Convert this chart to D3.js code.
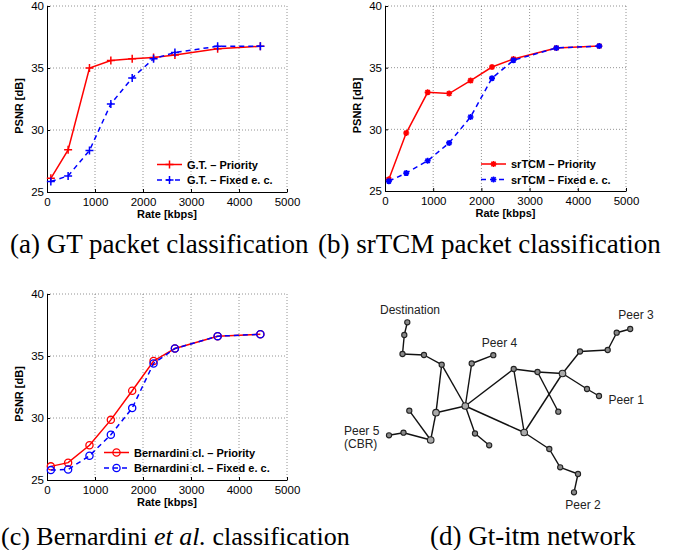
<!DOCTYPE html>
<html><head><meta charset="utf-8">
<script src="https://cdn.jsdelivr.net/npm/d3@7"></script>
<style>body{margin:0;background:#fff}</style>
</head><body>
<svg id="c" width="696" height="550"></svg>
<script>
const rates = [80, 440, 885, 1330, 1775, 2220, 2665, 3555, 4445];
const gtPriority = [26.1, 28.4, 35.0, 35.6, 35.75, 35.85, 36.05, 36.55, 36.75];
const gtFixed = [25.85, 26.3, 28.35, 32.1, 34.2, 35.75, 36.25, 36.75, 36.75];
const srPriority = [25.95, 29.7, 33.0, 32.9, 33.95, 35.05, 35.7, 36.6, 36.75];
const srFixed = [25.8, 26.45, 27.45, 28.9, 31.0, 34.15, 35.6, 36.6, 36.75];
const bePriority = [26.1, 26.4, 27.8, 29.85, 32.2, 34.6, 35.6, 36.6, 36.75];
const beFixed = [25.8, 25.85, 26.95, 28.65, 30.8, 34.4, 35.6, 36.6, 36.75];
const xTicks = [0, 1000, 2000, 3000, 4000, 5000];
const yTicks = [25, 30, 35, 40];
const captions = ["(a) GT packet classification", "(b) srTCM packet classification", "classification", "(d) Gt-itm network"];

// network (layout units)
const nodeX = [407.3,404.3,402.5,424,441.7,436,409.3,430.7,403.5,389,465.3,471.7,493.3,475,489.2,513.7,537.5,558.3,562.5,524.2,580,607.7,616.7,630.2,587,599,549.3,560.2,578,574];
const nodeY = [322.3,335,354,355,364.7,412.7,410.7,440,432.7,435.3,406,363.5,355.2,433.5,445.3,369,372,411.7,373.5,432.5,351.5,350,332.7,329,389,396,449,467.3,474,492.3];
const edges = [[0,1],[1,2],[2,3],[3,4],[4,5],[4,10],[5,7],[5,10],[6,7],[8,7],[9,8],[10,11],[11,12],[10,13],[13,14],[10,15],[10,19],[15,19],[15,16],[16,18],[16,17],[19,18],[18,20],[20,21],[21,22],[22,23],[18,24],[24,25],[19,26],[26,27],[27,28],[28,29]];
const bigNodes = [5,7,10,18,19];
const netLabels = ["Destination","Peer 4","Peer 3","Peer 1","Peer 2","Peer 5","(CBR)"];
const netLabelX = [410,499.5,636,608.5,583,344,344];
const netLabelY = [310,342.5,315,399.5,505,431,444];

const svg = d3.select("#c");
const RED = "#ff0000", BLUE = "#0000ff";

function panel(x0, x1, y0, y1, series, legendPos) {
  const x = d3.scaleLinear().domain([0, 5000]).range([x0, x1]);
  const y = d3.scaleLinear().domain([25, 40]).range([y1, y0]);
  const g = svg.append("g");
  g.selectAll(".gx").data(xTicks.slice(1)).join("line")
    .attr("x1", d => x(d)).attr("x2", d => x(d)).attr("y1", y0).attr("y2", y1)
    .attr("stroke", "#777").attr("stroke-width", 0.8).attr("stroke-dasharray", "1,2");
  g.selectAll(".gy").data(yTicks.slice(1)).join("line")
    .attr("y1", d => y(d)).attr("y2", d => y(d)).attr("x1", x0).attr("x2", x1)
    .attr("stroke", "#777").attr("stroke-width", 0.8).attr("stroke-dasharray", "1,2");
  const ax = g.append("g").attr("transform", `translate(0,${y1})`)
    .call(d3.axisBottom(x).tickValues(xTicks).tickSizeInner(-3).tickSizeOuter(0).tickPadding(6).tickFormat(d3.format("d")));
  const ay = g.append("g").attr("transform", `translate(${x0},0)`)
    .call(d3.axisLeft(y).tickValues(yTicks).tickSizeInner(-3).tickSizeOuter(0).tickPadding(3).tickFormat(d3.format("d")));
  [ax, ay].forEach(a => {
    a.selectAll("text").attr("font-family", "Liberation Sans, Arial").attr("font-size", 11.5).attr("fill", "#000");
    a.select(".domain").attr("stroke", "#000").attr("stroke-width", 1);
    a.selectAll(".tick line").attr("stroke", "#000");
  });
  ax.selectAll("text").attr("dy", "0.71em");
  g.append("text").attr("x", (x0 + x1) / 2).attr("y", y1 + 26)
    .attr("text-anchor", "middle").attr("font-family", "Liberation Sans, Arial")
    .attr("font-weight", "bold").attr("font-size", 11).text("Rate [kbps]");
  g.append("text").attr("transform", `translate(${x0 - 24},${(y0 + y1) / 2 + 7}) rotate(-90)`)
    .attr("text-anchor", "middle").attr("font-family", "Liberation Sans, Arial")
    .attr("font-weight", "bold").attr("font-size", 11).text("PSNR [dB]");

  const line = d3.line().x((d, i) => x(rates[i])).y(d => y(d));
  series.forEach(s => {
    g.append("path").datum(s.values).attr("d", line).attr("fill", "none")
      .attr("stroke", s.color).attr("stroke-width", 1.5)
      .attr("stroke-dasharray", s.dash ? "5,4" : null);
    s.values.forEach((v, i) => drawMarker(g, x(rates[i]), y(v), s.marker, s.color));
  });
  series.forEach((s, k) => {
    const ly = legendPos.y + k * 15.5;
    g.append("line").attr("x1", legendPos.x).attr("x2", legendPos.x + 25).attr("y1", ly).attr("y2", ly)
      .attr("stroke", s.color).attr("stroke-width", 1.5).attr("stroke-dasharray", s.dash ? "5,4" : null);
    drawMarker(g, legendPos.x + 12.5, ly, s.marker, s.color);
    g.append("text").attr("x", legendPos.x + 30).attr("y", ly + 4)
      .attr("font-family", "Liberation Sans, Arial").attr("font-weight", "bold").attr("font-size", 11)
      .text(s.label);
  });
}

function drawMarker(g, cx, cy, type, color) {
  if (type === "+") {
    g.append("path").attr("d", `M${cx-4},${cy}H${cx+4}M${cx},${cy-4}V${cy+4}`)
      .attr("stroke", color).attr("stroke-width", 1.5);
  } else if (type === "*") {
    g.append("path").attr("d", `M${cx-3},${cy}H${cx+3}M${cx},${cy-3}V${cy+3}M${cx-2.2},${cy-2.2}L${cx+2.2},${cy+2.2}M${cx-2.2},${cy+2.2}L${cx+2.2},${cy-2.2}`)
      .attr("stroke", color).attr("stroke-width", 1.6);
    g.append("circle").attr("cx", cx).attr("cy", cy).attr("r", 1.8).attr("fill", color);
  } else {
    g.append("circle").attr("cx", cx).attr("cy", cy).attr("r", 3.6)
      .attr("fill", "none").attr("stroke", color).attr("stroke-width", 1.3);
  }
}

panel(47, 287, 6, 192, [
  {values: gtPriority, color: RED, marker: "+", label: "G.T. – Priority"},
  {values: gtFixed, color: BLUE, marker: "+", dash: true, label: "G.T. – Fixed e. c."}
], {x: 157, y: 164.5});
panel(385, 626, 6, 191, [
  {values: srPriority, color: RED, marker: "*", label: "srTCM – Priority"},
  {values: srFixed, color: BLUE, marker: "*", dash: true, label: "srTCM – Fixed e. c."}
], {x: 481, y: 164});
panel(47, 287, 294, 480, [
  {values: bePriority, color: RED, marker: "o", label: "Bernardini cl. – Priority"},
  {values: beFixed, color: BLUE, marker: "o", dash: true, label: "Bernardini cl. – Fixed e. c."}
], {x: 104, y: 452.5});

// network
const nx = d3.scaleLinear().domain([0, 1]).range([0, 1]);
const ny = d3.scaleLinear().domain([0, 1]).range([0, 1]);
const ng = svg.append("g");
ng.selectAll("line").data(edges).join("line")
  .attr("x1", d => nx(nodeX[d[0]])).attr("y1", d => ny(nodeY[d[0]]))
  .attr("x2", d => nx(nodeX[d[1]])).attr("y2", d => ny(nodeY[d[1]]))
  .attr("stroke", "#111").attr("stroke-width", 1.4);
ng.selectAll("circle").data(nodeX.map((v, i) => i)).join("circle")
  .attr("cx", i => nx(nodeX[i])).attr("cy", i => ny(nodeY[i]))
  .attr("r", i => bigNodes.includes(i) ? 3.3 : 2.6)
  .attr("fill", i => bigNodes.includes(i) ? "#aaa" : "#8a8a8a").attr("stroke", "#222").attr("stroke-width", 1.1);
ng.selectAll("text").data(netLabels).join("text")
  .attr("x", (d, i) => nx(netLabelX[i])).attr("y", (d, i) => ny(netLabelY[i]) + 4.3)
  .attr("text-anchor", (d, i) => (i === 3 || i >= 5) ? "start" : "middle")
  .attr("font-family", "Liberation Sans, Arial").attr("font-size", 12).attr("fill", "#222")
  .text(d => d);

// captions
function caption(x, yb, anchor, size) {
  return svg.append("text").attr("x", x).attr("y", yb).attr("text-anchor", anchor)
    .attr("font-family", "Liberation Serif, Times New Roman").attr("font-size", size || 27).attr("fill", "#000");
}
caption(10, 253, "start").text(captions[0]);
caption(318, 253, "start").text(captions[1]);
const tc = caption(1, 545, "start", 26);
tc.append("tspan").text("(c) Bernardini ");
tc.append("tspan").attr("font-style", "italic").text("et al.");
tc.append("tspan").text(" " + captions[2]);
caption(430, 545, "start").text(captions[3]);
</script>
</body></html>
